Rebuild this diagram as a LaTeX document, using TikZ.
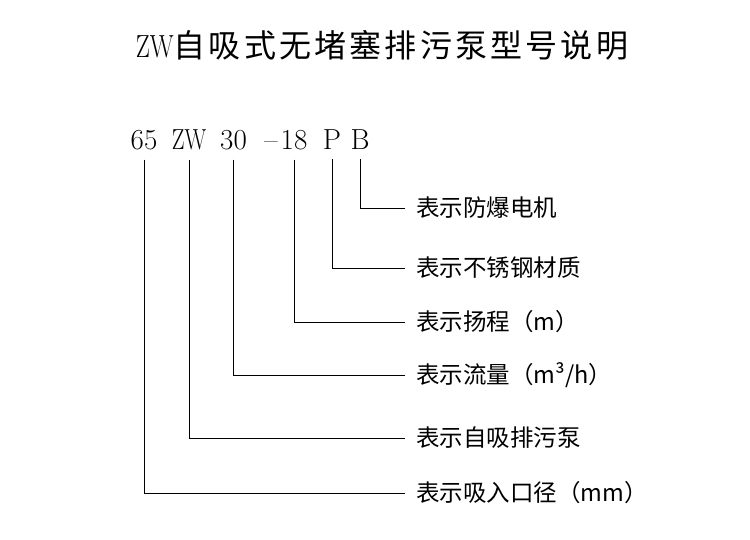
\documentclass[tikz,border=0pt]{standalone}
\usepackage{fontspec}
\newfontfamily\cjk{Noto Sans CJK SC}
\usetikzlibrary{calc}

\tikzset{
  codeseg/.style={anchor=base, inner sep=0pt, font=\fontsize{29}{29}\selectfont},
  desc/.style={anchor=west, inner sep=0pt, font=\cjk\fontsize{23.5}{24}\selectfont},
  lead/.style={black, line width=0.8pt}
}
\newcommand{\narrowZW}{\scalebox{0.78}[1]{ZW}}

\begin{document}
\begin{tikzpicture}[x=1pt,y=1pt]
  \useasboundingbox[fill=white] (0,0) rectangle (750,539);

  % title
  \node[inner sep=0pt] (title) at (382,494)
    {\fontsize{32}{32}\selectfont\narrowZW{\cjk\addfontfeature{LetterSpace=10}自吸式无堵塞排污泵型号说明}};

  % model code, one node per part
  \node[codeseg] (c65) at (144,389) {65};
  \node[codeseg] (cZW) at (189,389) {\narrowZW};
  \node[codeseg] (c30) at (233.5,389) {30};
  \node[codeseg] (cdash) at (271,389) {\textendash};
  \node[codeseg] (c18) at (294,389) {18};
  \node[codeseg] (cP) at (332,389) {P};
  \node[codeseg] (cB) at (360,389) {B};

  % descriptions
  \node[desc] (lB)  at (416,331) {表示防爆电机};
  \node[desc] (lP)  at (416,271) {表示不锈钢材质};
  \node[desc] (l18) at (416,217) {表示扬程（m）};
  \node[desc] (l30) at (416,164) {表示流量（m³/h）};
  \node[desc] (lZW) at (416,101) {表示自吸排污泵};
  \node[desc] (l65) at (416,46)  {表示吸入口径（mm）};

  % leader lines
  \foreach \c in {65,ZW,30,18,P,B} {
    \draw[lead] ([yshift=-9pt]c\c.south) |- ([xshift=-11pt]l\c.west);
  }
\end{tikzpicture}
\end{document}
